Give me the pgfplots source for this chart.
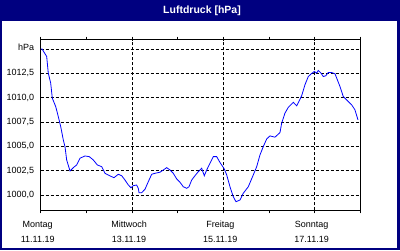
\documentclass[border=0pt]{standalone}
\usepackage{pgfplots}
\pgfplotsset{compat=1.18}
\usepackage{fontspec}
\setmainfont{Liberation Sans}
\definecolor{navy}{HTML}{000080}
\definecolor{curve}{HTML}{0000FF}
\begin{document}
\begin{tikzpicture}
\useasboundingbox (0pt,0pt) rectangle (400pt,250pt);
\fill[navy] (0pt,0pt) rectangle (400pt,250pt);
\fill[white] (2pt,2.3pt) rectangle (397.3pt,229.3pt);
\node[text=white,font=\bfseries\fontsize{10.5}{12}\selectfont] at (202pt,239.7pt) {Luftdruck [hPa]};
\begin{axis}[
  at={(40.7pt,39.7pt)}, anchor=south west,
  scale only axis, width=319.6pt, height=170.6pt,
  xmin=0, xmax=7, ymin=998.44, ymax=1015.96,
  axis line style={black, line width=0.8pt},
  xtick={0,2,4,6},
  minor xtick={1,3,5,7},
  xticklabels={{Montag\\11.11.19},{Mittwoch\\13.11.19},{Freitag\\15.11.19},{Sonntag\\17.11.19}},
  xticklabel style={align=center, font=\fontsize{9}{15.5}\selectfont, xshift=-3pt, yshift=-4pt},
  ytick={1000,1002.5,1005,1007.5,1010,1012.5,1015},
  yticklabels={{1000,0},{1002,5},{1005,0},{1007,5},{1010,0},{1012,5},\raisebox{4pt}{hPa}},
  yticklabel style={font=\fontsize{9}{10}\selectfont},
  tick align=outside,
  major tick length=3pt, minor tick length=3pt,
  x tick style={black, line width=0.8pt},
  y tick style={draw=none},
  xmajorgrids, ymajorgrids,
  major grid style={black, line width=0.8pt, dash pattern=on 3pt off 2pt},
  clip=true,
]
\addplot[curve, line width=0.8pt] coordinates {
(0,1015.0) (0.03,1015.0) (0.131,1014.24) (0.166,1012.53) (0.219,1011.50) (0.254,1009.96)
(0.329,1009.09) (0.385,1008.07) (0.438,1007.04) (0.495,1005.67) (0.532,1004.98)
(0.569,1003.61) (0.642,1002.48) (0.714,1002.82) (0.788,1003.10) (0.861,1003.79)
(0.970,1004.02) (1.064,1003.95) (1.152,1003.61) (1.240,1003.10) (1.336,1002.92)
(1.408,1002.24) (1.518,1001.97) (1.605,1001.79) (1.700,1002.14) (1.774,1001.99)
(1.846,1001.55) (1.919,1001.04) (1.978,1000.76) (2.028,1000.97) (2.102,1001.04)
(2.138,1000.70) (2.153,1000.25) (2.212,1000.25) (2.284,1000.60) (2.357,1001.38)
(2.431,1002.14) (2.503,1002.24) (2.613,1002.35) (2.685,1002.58) (2.760,1002.82)
(2.832,1002.58) (2.904,1002.24) (2.979,1001.66) (3.051,1001.32) (3.123,1000.86)
(3.198,1000.70) (3.248,1000.86) (3.307,1001.55) (3.379,1001.99) (3.452,1002.41)
(3.526,1002.76) (3.583,1001.99) (3.636,1002.58) (3.708,1003.27) (3.780,1003.95)
(3.855,1003.95) (3.927,1003.35) (4.021,1002.69) (4.074,1002.07) (4.146,1000.86)
(4.218,999.84) (4.277,999.32) (4.365,999.50) (4.437,1000.19) (4.547,1000.86)
(4.656,1002.07) (4.731,1002.92) (4.803,1004.13) (4.875,1004.98) (4.950,1005.77)
(5.022,1006.08) (5.131,1005.95) (5.241,1006.42) (5.278,1007.39) (5.350,1008.42)
(5.423,1009.01) (5.532,1009.53) (5.607,1009.17) (5.716,1010.20) (5.788,1011.33)
(5.861,1012.18) (5.920,1012.43) (5.992,1012.70) (6.045,1012.53) (6.080,1012.80)
(6.139,1012.53) (6.189,1012.18) (6.242,1012.25) (6.299,1012.59) (6.373,1012.59)
(6.446,1012.46) (6.483,1012.02) (6.555,1011.15) (6.627,1010.12) (6.702,1009.78)
(6.811,1009.27) (6.883,1008.76) (6.949,1007.73)
};
\end{axis}
\end{tikzpicture}
\end{document}
